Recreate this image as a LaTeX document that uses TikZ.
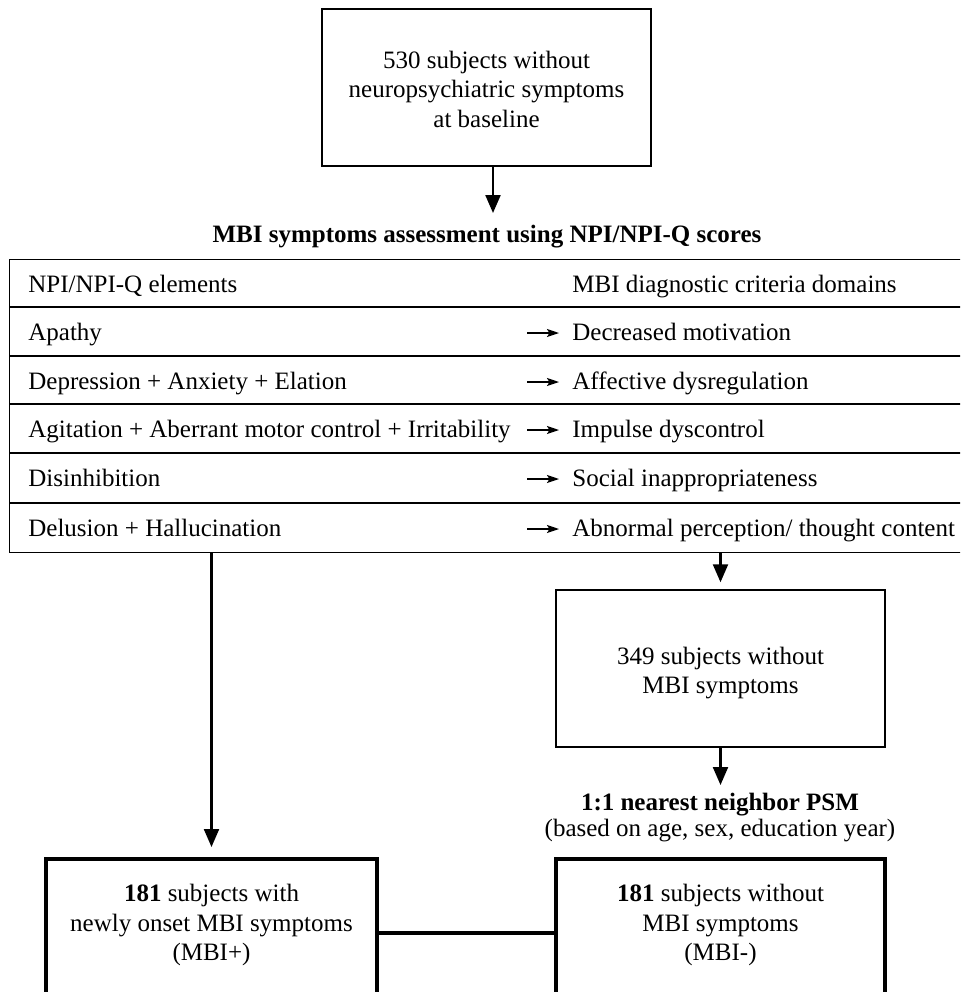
\documentclass[tikz,border=0pt]{standalone}
\usepackage{fontspec}
\setmainfont{Liberation Serif}
\usetikzlibrary{arrows.meta}
\begin{document}
\begin{tikzpicture}[x=0.5pt,y=-0.5pt,
  font=\fontsize{12.5}{14.75}\selectfont,
  thinbox/.style={draw, line width=0.75pt, inner sep=0pt},
  thickbox/.style={draw, line width=2pt, inner sep=0pt},
  boxtext/.style={inner sep=0pt, align=center},
  arr/.style={line width=1.1pt, -{Triangle[length=9pt,width=7.5pt]}},
  tarr/.style={line width=0.75pt, -{Stealth[length=6pt,width=4pt,inset=1.2pt]}},
  rowline/.style={line width=0.65pt},
  cell/.style={anchor=base west, inner sep=0pt},
  boldlabel/.style={anchor=base, inner sep=0pt, font=\fontsize{12.5}{14.75}\selectfont\bfseries}
]
\useasboundingbox (0,0) rectangle (960,992);
\clip (0,0) rectangle (960,992);
\fill[white] (0,0) rectangle (960,992);

% top box
\node[thinbox, minimum width=164.5pt, minimum height=78.5pt] (top) at (486.5,87.5) {};
\node[boxtext] (toptxt) at (486.5,89) {530 subjects without\\neuropsychiatric symptoms\\at baseline};
\coordinate (a1) at (493,213);
\draw[arr] (top.south -| a1) -- (a1);

% title
\node[boldlabel] (title) at (487,242) {MBI symptoms assessment using NPI/NPI-Q scores};

% table
\node[draw, rowline, minimum width=476pt, minimum height=146.5pt, anchor=north west, inner sep=0pt] (tbl) at (9,259) {};
\foreach \y in {307,356,404,453,503} \draw[rowline] (9,\y) -- (961,\y);

\node[cell] (l0) at (28,292) {NPI/NPI-Q elements};
\node[cell] (l1) at (28,340) {Apathy};
\node[cell] (l2) at (28,389) {Depression + Anxiety + Elation};
\node[cell] (l3) at (28,437) {Agitation + Aberrant motor control + Irritability};
\node[cell] (l4) at (28,486) {Disinhibition};
\node[cell] (l5) at (28,536) {Delusion + Hallucination};

\node[cell] (r0) at (572,292) {MBI diagnostic criteria domains};
\node[cell] (r1) at (572,340) {Decreased motivation};
\node[cell] (r2) at (572,389) {Affective dysregulation};
\node[cell] (r3) at (572,437) {Impulse dyscontrol};
\node[cell] (r4) at (572,486) {Social inappropriateness};
\node[cell] (r5) at (572,536) {Abnormal perception/ thought content};

\foreach \i in {1,...,5}
  \draw[tarr] ([shift={(-45,-7)}]r\i.base west) -- ([shift={(-13,-7)}]r\i.base west);

% middle box
\node[thinbox, minimum width=164.5pt, minimum height=78.5pt] (mid) at (720.5,668.5) {};
\node[boxtext] (midtxt) at (720.5,673) {349 subjects without\\MBI symptoms};
\draw[arr, shorten >=3.5pt] (tbl.south -| mid.north) -- (mid.north);

\coordinate (a2) at (720.5,785);
\draw[arr] (mid.south) -- (a2);

\node[boldlabel] (psm) at (720,810) {1:1 nearest neighbor PSM};
\node[anchor=base, inner sep=0pt] (psm2) at (720,836) {(based on age, sex, education year)};

% bottom boxes
\node[thickbox, minimum width=165.5pt, minimum height=74pt] (lbox) at (211.5,933) {};
\node[boxtext] (ltxt) at (211.5,925) {\textbf{181} subjects with\\newly onset MBI symptoms\\(MBI+)};
\node[thickbox, minimum width=164.5pt, minimum height=74pt] (rbox) at (720.5,933) {};
\node[boxtext] (rtxt) at (720.5,925) {\textbf{181} subjects without\\MBI symptoms\\(MBI-)};

\draw[arr, shorten >=5pt] (tbl.south -| lbox.north) -- (lbox.north);
\draw[line width=2pt] (lbox.east) -- (rbox.west);
\end{tikzpicture}
\end{document}
